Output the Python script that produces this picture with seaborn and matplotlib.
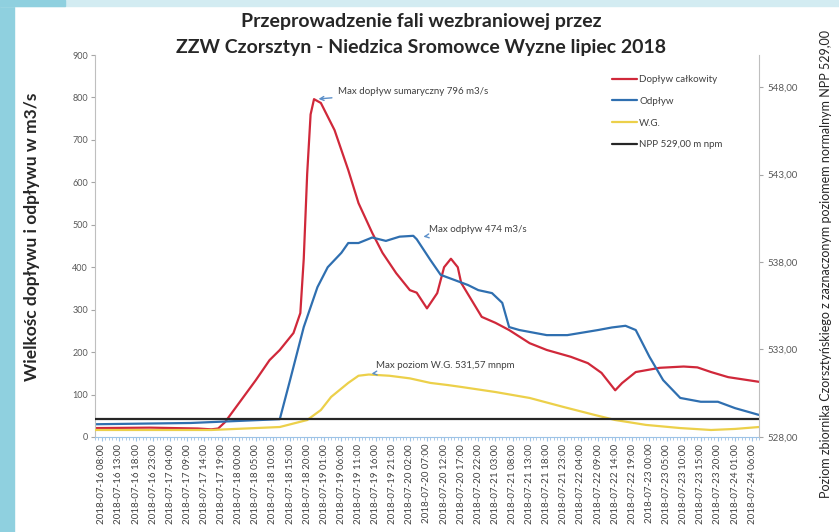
import matplotlib
matplotlib.use('Agg')
import matplotlib.pyplot as plt
import seaborn as sns
import pandas as pd
from matplotlib.patches import Rectangle

# hours counted from 2018-07-16 08:00
start = pd.Timestamp('2018-07-16 08:00')

dop_h = [-2, 14, 28, 32, 34, 36, 45, 49, 52, 56, 58, 59, 60, 61, 62, 64, 68, 72, 75, 79, 82, 86,
         90, 92, 95, 98, 100, 102, 104, 105, 108, 111, 115, 119, 125, 130, 137, 142, 146, 150,
         152, 156, 163, 170, 174, 178, 183, 192]
dop_q = [21, 22, 20, 18, 20, 35, 134, 181, 205, 245, 292, 420, 620, 760, 796, 787, 723, 629, 551,
         481, 434, 386, 346, 340, 303, 339, 400, 420, 400, 363, 323, 283, 269, 252, 221, 205, 189,
         174, 151, 110, 127, 153, 163, 166, 164, 153, 141, 130]

odp_h = [-2, 26, 52, 55, 59, 63, 66, 70, 72, 75, 79, 83, 87, 91, 92, 96, 99, 103, 107, 110, 114,
         117, 119, 122, 130, 136, 145, 149, 153, 156, 160, 164, 169, 175, 180, 185, 192]
odp_q = [30, 33, 42, 134, 259, 353, 400, 434, 457, 457, 470, 462, 472, 474, 466, 417, 382, 370,
         358, 346, 339, 316, 259, 252, 240, 240, 252, 258, 262, 252, 189, 134, 92, 83, 83, 68, 52]

wg_h = [-2, 32, 52, 60, 64, 67, 72, 75, 78, 84, 90, 96, 101, 105, 115, 125, 135, 144, 150, 159,
        169, 178, 185, 192]
wg_lvl = [528.40, 528.40, 528.57, 528.97, 529.54, 530.29, 531.09, 531.50, 531.57, 531.50, 531.35,
          531.09, 530.97, 530.86, 530.57, 530.23, 529.71, 529.26, 528.97, 528.69, 528.51, 528.40,
          528.46, 528.57]

npp_h = [-2, 192]
npp_lvl = [529.00, 529.00]

tick_h = list(range(0, 191, 5))
tick_labels = [(start + pd.Timedelta(hours=h)).strftime('%Y-%m-%d %H:%M') for h in tick_h]

sns.set_style('white')
plt.rcParams['font.family'] = ['Lato', 'DejaVu Sans']

fig = plt.figure(figsize=(8.39, 5.32), dpi=100)
fig.patches.append(Rectangle((0, 0), 14 / 839, 1, transform=fig.transFigure, color='#8fd0df', zorder=-1))
fig.patches.append(Rectangle((0, 1 - 6 / 532), 1, 6 / 532, transform=fig.transFigure, color='#d3ecf2', zorder=-1))
fig.patches.append(Rectangle((0, 1 - 6 / 532), 65 / 839, 6 / 532, transform=fig.transFigure, color='#8fd0df', zorder=-1))

ax = fig.add_axes([0.1132, 0.1786, 0.7914, 0.718])
ax2 = ax.twinx()

red = '#d0283a'
blue = '#2f6fb0'
yellow = '#ecd04a'
black = '#262626'

sns.lineplot(x=dop_h, y=dop_q, ax=ax, color=red, lw=1.6, label='Dopływ całkowity', legend=False)
sns.lineplot(x=odp_h, y=odp_q, ax=ax, color=blue, lw=1.6, label='Odpływ', legend=False)
sns.lineplot(x=wg_h, y=wg_lvl, ax=ax2, color=yellow, lw=1.6, label='W.G.', legend=False)
sns.lineplot(x=npp_h, y=npp_lvl, ax=ax2, color=black, lw=1.6, label='NPP 529,00 m npm', legend=False)

ax.set_xlim(-2, 192)
ax.set_ylim(0, 900)
ax2.set_ylim(528, 549.83)
ax.set_yticks(range(0, 901, 100))
ax2.set_yticks([528, 533, 538, 543, 548])
ax2.set_yticklabels(['528,00', '533,00', '538,00', '543,00', '548,00'])
ax.set_xticks(tick_h)
ax.set_xticklabels(tick_labels, rotation=90)
ax.set_xticks(range(-2, 193), minor=True)
ax.set_xlabel('')
ax.set_ylabel('')
ax2.set_ylabel('')

ax.tick_params(axis='y', labelsize=6.5, labelcolor='#595959', length=3, color='#a6a6a6', left=True, pad=2)
ax2.tick_params(axis='y', labelsize=7, labelcolor='#595959', length=3, color='#a6a6a6', right=True, pad=3)
ax.tick_params(axis='x', which='major', labelsize=7, labelcolor='#404040', length=3, color='#9dc3e6', bottom=True, pad=2)
ax.tick_params(axis='x', which='minor', length=2, color='#9dc3e6', bottom=True)
ax.spines['top'].set_visible(False)
ax2.spines['top'].set_visible(False)
ax.spines['left'].set_color('#bfbfbf')
ax2.spines['right'].set_color('#bfbfbf')
ax2.spines['left'].set_visible(False)
ax.spines['right'].set_visible(False)
ax.spines['bottom'].set_color('#9dc3e6')
ax2.spines['bottom'].set_visible(False)

h1, l1 = ax.get_legend_handles_labels()
h2, l2 = ax2.get_legend_handles_labels()
ax2.legend(h1 + h2, l1 + l2, loc='upper left', bbox_to_anchor=(0.719, 0.875),
           bbox_transform=fig.transFigure, frameon=False, fontsize=7, handlelength=2.6,
           handletextpad=0.2, labelspacing=1.3, labelcolor='#404040')

arrow = dict(arrowstyle='->', color='#5b8fc9', lw=1)
ax.annotate('Max dopływ sumaryczny 796 m3/s', xy=(62.5, 796), xytext=(69, 815),
            fontsize=7, color='#404040', va='center', arrowprops=arrow)
ax.annotate('Max odpływ 474 m3/s', xy=(94, 472), xytext=(95.5, 490),
            fontsize=7, color='#404040', va='center', arrowprops=arrow)
ax2.annotate('Max poziom W.G. 531,57 mnpm', xy=(78, 531.6), xytext=(80, 532.1),
             fontsize=7, color='#404040', va='center', arrowprops=arrow)

fig.text(0.502, 1 - 22 / 532, 'Przeprowadzenie fali wezbraniowej przez', ha='center', va='center',
         fontsize=14, fontweight='bold', color='#262626')
fig.text(0.502, 1 - 48 / 532, 'ZZW Czorsztyn - Niedzica Sromowce Wyzne lipiec 2018', ha='center',
         va='center', fontsize=14, fontweight='bold', color='#262626')
fig.text(32 / 839, 1 - 237 / 532, 'Wielkośc dopływu i odpływu w m3/s', rotation=90, ha='center',
         va='center', fontsize=12.5, fontweight='bold', color='#262626')
fig.text(826 / 839, 1 - 264 / 532,
         'Poziom zbiornika Czorsztyńskiego z zaznaczonym poziomem normalnym NPP 529,00',
         rotation=90, ha='center', va='center', fontsize=9, color='#262626')

fig.savefig('out.png', dpi=100)
